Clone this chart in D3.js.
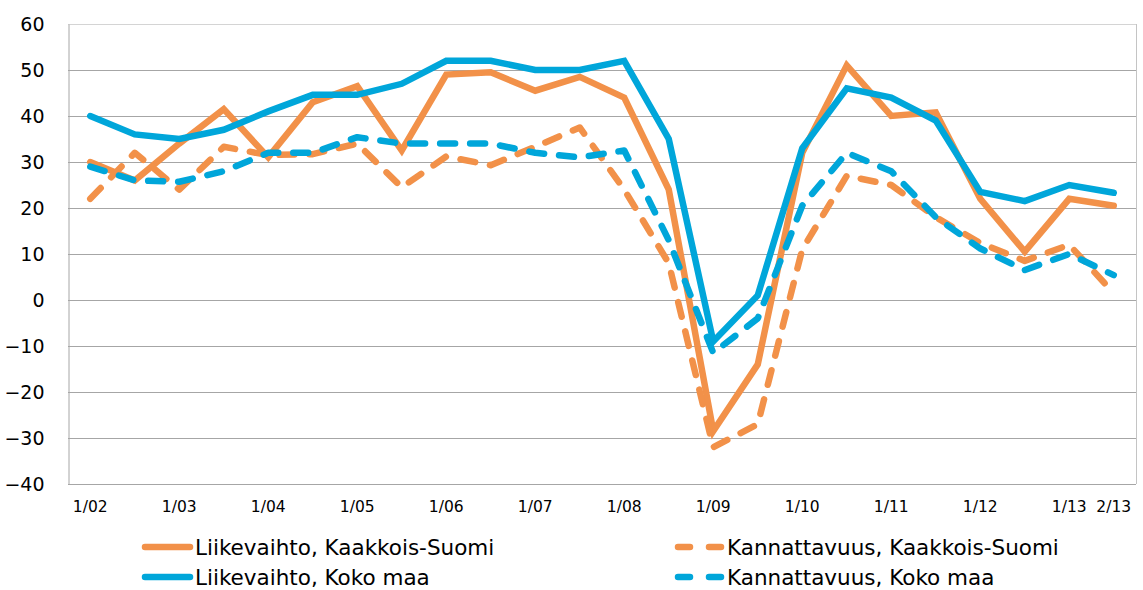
<!DOCTYPE html>
<html>
<head>
<meta charset="utf-8">
<script src="https://cdn.jsdelivr.net/npm/d3@7"></script>
<style>
  body { margin: 0; background: #fff; }
  svg { display: block; }
</style>
</head>
<body>
<div id="chart"></div>
<script>
// Half-year categories 1/02 ... 2/13
const categories = ["1/02","2/02","1/03","2/03","1/04","2/04","1/05","2/05","1/06","2/06",
  "1/07","2/07","1/08","2/08","1/09","2/09","1/10","2/10","1/11","2/11","1/12","2/12","1/13","2/13"];
const tickLabels = ["1/02","1/03","1/04","1/05","1/06","1/07","1/08","1/09","1/10","1/11","1/12","1/13","2/13"];
const yTicks = [-40, -30, -20, -10, 0, 10, 20, 30, 40, 50, 60];

// Series values
const liikevaihtoKS = [30, 26, 34, 41.5, 31, 43, 46.5, 32.5, 49, 49.5, 45.5, 48.5, 44, 24, -28.5, -14, 32, 51, 40, 40.8, 22, 10.5, 22, 20.5];
const kannattavuusKS = [22, 32, 24, 33.3, 31.5, 31.7, 34, 24.5, 31.2, 29.3, 33.3, 37.5, 24, 8, -32, -27, 11, 27, 25, 18, 12.4, 8.5, 12, 1.5];
const liikevaihtoKoko = [40, 36, 35, 37, 41, 44.6, 44.6, 47, 52, 52, 50, 50, 52, 35, -9, 1, 33, 46, 44, 39, 23.5, 21.5, 25, 23.3];
const kannattavuusKoko = [29, 26, 25.7, 28, 32, 32, 35.4, 34, 34, 34, 32, 31, 32.5, 13, -11.5, -4, 20.5, 32, 28, 18, 11.2, 6.5, 10, 5.4];

const seriesNames = ["Liikevaihto, Kaakkois-Suomi", "Kannattavuus, Kaakkois-Suomi", "Liikevaihto, Koko maa", "Kannattavuus, Koko maa"];

const orange = "#F29149";
const blue = "#00A6DA";

const series = [
  { name: seriesNames[0], values: liikevaihtoKS, color: orange, dashed: false },
  { name: seriesNames[1], values: kannattavuusKS, color: orange, dashed: true },
  { name: seriesNames[2], values: liikevaihtoKoko, color: blue, dashed: false },
  { name: seriesNames[3], values: kannattavuusKoko, color: blue, dashed: true }
];

const width = 1143, height = 590;
const plot = { left: 68, right: 1136, top: 24, bottom: 484 };

const svg = d3.select("#chart")
  .append("svg")
  .attr("width", width)
  .attr("height", height);

const x = d3.scaleBand()
  .domain(categories)
  .range([plot.left, plot.right]);

const y = d3.scaleLinear()
  .domain([-40, 60])
  .range([plot.bottom, plot.top]);

// Gridlines
svg.append("g")
  .selectAll("line")
  .data(yTicks)
  .enter()
  .append("line")
  .attr("x1", plot.left)
  .attr("x2", plot.right)
  .attr("y1", d => Math.round(y(d)) + 0.5)
  .attr("y2", d => Math.round(y(d)) + 0.5)
  .attr("stroke", d => d === 60 ? "#d4d4d4" : "#a6a6a6")
  .attr("stroke-width", 1);

// Right border
svg.append("line")
  .attr("x1", plot.right + 0.5).attr("x2", plot.right + 0.5)
  .attr("y1", y(60)).attr("y2", y(-40))
  .attr("stroke", "#c4c4c4");

// Y axis
const yAxis = svg.append("g")
  .attr("transform", `translate(${plot.left + 0.5},0)`)
  .call(d3.axisLeft(y).tickValues(yTicks).tickSize(0).tickPadding(24));
yAxis.select(".domain").attr("stroke", "#a6a6a6");
yAxis.selectAll("text")
  .attr("font-family", "DejaVu Sans")
  .attr("font-size", 19)
  .attr("fill", "#000");

// X axis
const xAxis = svg.append("g")
  .attr("transform", `translate(0,${plot.bottom})`)
  .call(d3.axisBottom(x).tickValues(tickLabels).tickSize(0).tickPadding(17));
xAxis.select(".domain").remove();
xAxis.selectAll("text")
  .attr("font-family", "DejaVu Sans")
  .attr("font-size", 15.5)
  .attr("fill", "#000");

// Lines
const line = d3.line()
  .x((d, i) => x(categories[i]) + x.bandwidth() / 2)
  .y(d => y(d));

svg.append("g")
  .selectAll("path")
  .data(series)
  .enter()
  .append("path")
  .attr("d", d => line(d.values))
  .attr("fill", "none")
  .attr("stroke", d => d.color)
  .attr("stroke-width", 6.5)
  .attr("stroke-linejoin", d => d.dashed ? "round" : "miter")
  .attr("stroke-linecap", "round")
  .attr("stroke-dasharray", d => d.dashed ? "15,15" : null);

// Legend
const legendPos = [
  { x: 142, y: 547 },
  { x: 675, y: 547 },
  { x: 142, y: 577 },
  { x: 675, y: 577 }
];

const legend = svg.append("g")
  .selectAll("g")
  .data(series)
  .enter()
  .append("g")
  .attr("transform", (d, i) => `translate(${legendPos[i].x},${legendPos[i].y})`);

legend.append("line")
  .attr("x1", 3)
  .attr("x2", d => d.dashed ? 46 : 48)
  .attr("y1", 0).attr("y2", 0)
  .attr("stroke", d => d.color)
  .attr("stroke-width", 6.5)
  .attr("stroke-linecap", "round")
  .attr("stroke-dasharray", d => d.dashed ? "12,19" : null);

legend.append("text")
  .attr("x", d => d.dashed ? 52 : 53)
  .attr("y", 8)
  .attr("font-family", "DejaVu Sans")
  .attr("font-size", 21.5)
  .attr("fill", "#000")
  .text(d => d.name);
</script>
</body>
</html>
